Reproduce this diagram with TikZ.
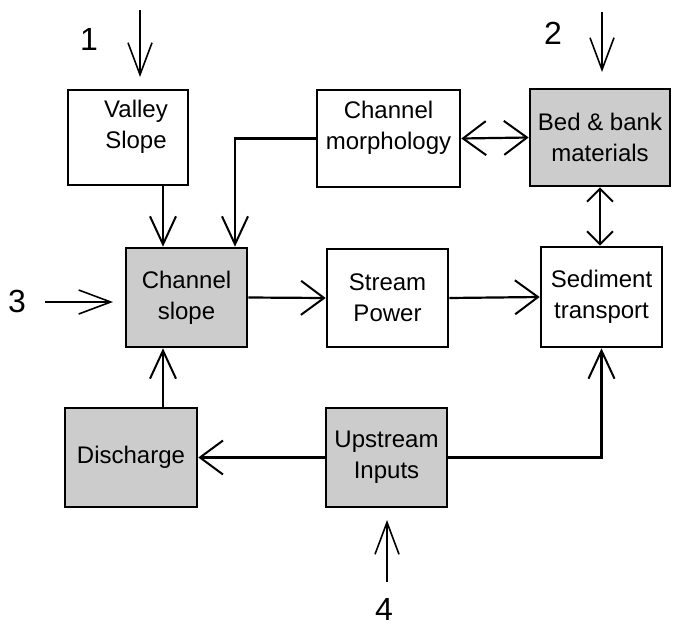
\documentclass[tikz,border=0pt]{standalone}
\usepackage{fontspec}
\setmainfont{Liberation Sans}
\usetikzlibrary{arrows.meta,calc}
\begin{document}
\begin{tikzpicture}[x=1pt,y=-1pt,
  box/.style={draw=black,line width=2.6pt,minimum width=#1,align=center,inner sep=0pt,
    font=\fontsize{24}{31}\selectfont},
  plain/.style={box=#1},
  shade/.style={box=#1,fill=black!20},
  num/.style={font=\fontsize{32}{32}\selectfont,inner sep=0pt},
  htip/.tip={Straight Barb[length=23pt,width=34pt,line width=2pt]},
  vtip/.tip={Straight Barb[length=28pt,width=26pt,line width=2pt]},
  stip/.tip={Straight Barb[length=13pt,width=26pt,line width=2pt]},
  itip/.tip={Straight Barb[length=32pt,width=24pt,line width=1.6pt]},
  harr/.style={line width=2.2pt,-htip},
  varr/.style={line width=2.2pt,-vtip},
  hdarr/.style={line width=2.2pt,htip-htip},
  vdarr/.style={line width=2.2pt,stip-stip},
  inarr/.style={line width=1.6pt,-itip}
]
\useasboundingbox (0,0) rectangle (690,629);

% boxes
\node[plain=120pt,minimum height=95pt] (valley) at (128,137.5) {\hspace*{16pt}Valley\\\hspace*{16pt}Slope\\[-14pt]\strut};
\node[plain=143pt,minimum height=97pt] (morph) at (388.5,138.5) {Channel\\morphology\\[-14pt]\strut};
\node[shade=140pt,minimum height=97pt] (bed) at (600,137.5) {Bed \& bank\\materials};
\node[shade=121pt,minimum height=99pt] (chslope) at (186.5,297.5) {Channel\\slope};
\node[plain=121pt,minimum height=98pt] (stream) at (387.5,298) {Stream\\Power};
\node[plain=121pt,minimum height=100pt] (sed) at (601.5,297) {Sediment\\transport};
\node[shade=132pt,minimum height=99pt] (dis) at (131,457.5) {Discharge};
\node[shade=121pt,minimum height=99pt] (up) at (386.5,457.5) {Upstream\\Inputs};

% numbered inputs
\node[num] (n1) at (89,39) {1};
\node[num] (n2) at (553,33) {2};
\node[num] (n3) at (17,301) {3};
\node[num] (n4) at (384,609) {4};
\coordinate (i1s) at (140,10);  \coordinate (i1e) at (140,77);
\coordinate (i2s) at (602,12);  \coordinate (i2e) at (602,72);
\coordinate (i3s) at (45,302);  \coordinate (i3e) at (113,302);
\coordinate (i4s) at (387,582); \coordinate (i4e) at (387,520);
\draw[inarr] (i1s) -- (i1e);
\draw[inarr] (i2s) -- (i2e);
\draw[inarr] (i3s) -- (i3e);
\draw[inarr] (i4s) -- (i4e);

% connectors
\draw[varr] ([xshift=35pt]valley.south) -- ([xshift=-23.5pt]chslope.north);
\draw[varr] (morph.west) -| ([xshift=48.5pt]chslope.north);
\draw[hdarr] (morph.east) -- (bed.west);
\draw[vdarr] (bed.south) -- (bed.south |- sed.north);
\draw[harr] (chslope.east) -- (stream.west);
\draw[harr] (stream.east) -- (sed.west);
\draw[varr] ([xshift=32pt]dis.north) -- ([xshift=-23.5pt]chslope.south);
\draw[harr] (up.west) -- (dis.east);
\draw[varr] (up.east) -| (sed.south);
\end{tikzpicture}
\end{document}
